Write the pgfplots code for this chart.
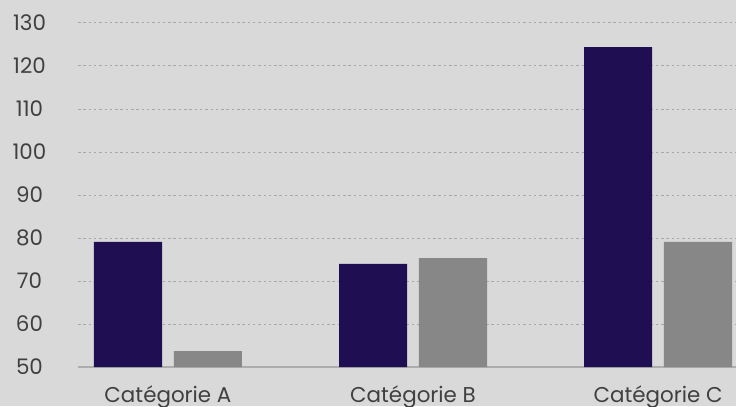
\documentclass[border=0pt]{standalone}
\usepackage{pgfplots}
\pgfplotsset{compat=1.18}
\usepackage{fontspec}
\setmainfont{Poppins}
\definecolor{bg}{HTML}{D9D9D9}
\definecolor{navy}{HTML}{1F0E52}
\definecolor{barg}{HTML}{878787}
\definecolor{txt}{HTML}{404040}
\definecolor{gridc}{HTML}{A8A8A8}
\definecolor{axc}{HTML}{ADADAD}
\begin{document}
\begin{tikzpicture}[x=1bp,y=1bp]
\fill[bg] (0,0) rectangle (736,406);
\useasboundingbox (0,0) rectangle (736,406);
\clip (0,0) rectangle (736,406);
\begin{axis}[at={(78bp,39bp)}, anchor=south west, scale only axis,
  width=658bp, height=344bp,
  xmin=-0.367, xmax=2.318, ymin=50, ymax=130,
  ybar, bar width=0.278,
  xtick={0,1,2}, xticklabels={Catégorie A, Catégorie B, Catégorie C},
  ytick={50,60,...,130},
  axis x line*=bottom, axis y line*=left,
  y axis line style={draw=none},
  x axis line style={axc, line width=1.3bp},
  major tick length=0,
  ymajorgrids, grid style={gridc, line width=1bp, dash pattern=on 2.5bp off 2.8bp},
  ticklabel style={font=\fontsize{21.5}{25}\selectfont, text=txt},
  yticklabel style={anchor=center, xshift=-48.5bp},
  xticklabel style={anchor=north, yshift=-15bp},
  /pgf/number format/assume math mode=true,
]
\addplot[fill=navy, draw=none, bar shift=-0.163] coordinates {(0,79.1) (1,74) (2,124.4)};
\addplot[fill=barg, draw=none, bar shift=0.163] coordinates {(0,53.7) (1,75.3) (2,79.1)};
\end{axis}
\end{tikzpicture}
\end{document}
